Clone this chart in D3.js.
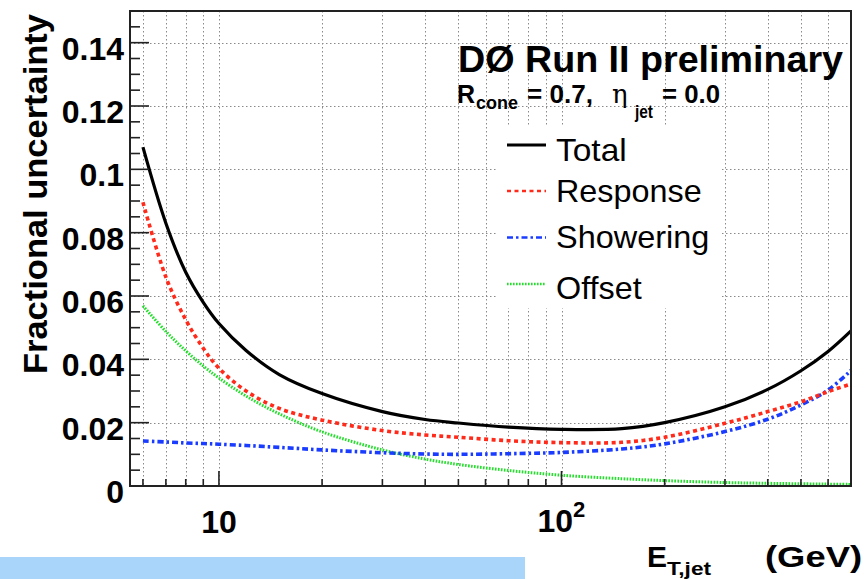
<!DOCTYPE html>
<html>
<head>
<meta charset="utf-8">
<script src="https://cdn.jsdelivr.net/npm/d3@7/dist/d3.min.js"></script>
<style>
  html, body { margin: 0; padding: 0; background: #fff; }
  svg { display: block; }
  text { font-family: "Liberation Sans", Arial, Helvetica, sans-serif; fill: #000; }
</style>
</head>
<body>
<svg id="chart" width="866" height="579"></svg>
<script>
// Jet energy scale uncertainty vs jet transverse energy (GeV)
const energies  = [6, 7, 8, 9, 10, 12, 15, 20, 30, 40, 50, 70, 100, 150, 200, 300, 400, 500, 600, 700];
const total     = [0.107, 0.083, 0.0675, 0.058, 0.0513, 0.0428, 0.0352, 0.0292, 0.0235, 0.0210, 0.0199, 0.0186, 0.0179, 0.0181, 0.0200, 0.0250, 0.0305, 0.0364, 0.0425, 0.0490];
const response  = [0.0896, 0.066, 0.0525, 0.0435, 0.0372, 0.0300, 0.0245, 0.0208, 0.0175, 0.0161, 0.0154, 0.0143, 0.0137, 0.0138, 0.0154, 0.0198, 0.0235, 0.0266, 0.0298, 0.0322];
const showering = [0.0142, 0.0139, 0.0136, 0.0134, 0.0132, 0.0128, 0.0122, 0.0114, 0.0105, 0.0101, 0.0100, 0.0102, 0.0106, 0.0117, 0.0133, 0.0172, 0.0211, 0.0256, 0.0303, 0.0365];
const offset    = [0.0569, 0.0488, 0.0427, 0.0379, 0.0341, 0.0284, 0.0228, 0.0171, 0.0114, 0.0085, 0.0068, 0.0049, 0.0034, 0.0023, 0.0017, 0.0011, 0.00085, 0.0007, 0.0006, 0.0005];

const seriesNames = ["Total", "Response", "Showering", "Offset"];
const yTickValues = [0, 0.02, 0.04, 0.06, 0.08, 0.1, 0.12, 0.14];
const yTickLabels = ["0", "0.02", "0.04", "0.06", "0.08", "0.1", "0.12", "0.14"];
const xGridValues = [6, 7, 8, 9, 10, 20, 30, 40, 50, 60, 70, 80, 90, 100, 200, 300, 400, 500, 600];

const svg = d3.select("#chart");

const plot = { left: 130, right: 851, top: 11, bottom: 486 };
const x = d3.scaleLog().domain([5.5, 700]).range([plot.left, plot.right]);
const y = d3.scaleLinear().domain([0, 0.15]).range([plot.bottom, plot.top]);

// strip at the bottom
svg.append("rect").attr("x", 0).attr("y", 557).attr("width", 525).attr("height", 22).attr("fill", "#aad5fb");

// grid
const grid = svg.append("g").attr("stroke", "#8a8a8a").attr("stroke-width", 1).attr("stroke-dasharray", "1.5,2.5");
grid.selectAll("line.gx").data(xGridValues).join("line")
  .attr("x1", d => Math.round(x(d)) + 0.5).attr("x2", d => Math.round(x(d)) + 0.5)
  .attr("y1", plot.top).attr("y2", plot.bottom);
grid.selectAll("line.gy").data(yTickValues.filter(v => v > 0)).join("line")
  .attr("x1", plot.left).attr("x2", plot.right)
  .attr("y1", d => Math.round(y(d)) + 0.5).attr("y2", d => Math.round(y(d)) + 0.5);

// curves
const line = d3.line().x(d => x(d[0])).y(d => y(d[1])).curve(d3.curveCatmullRom.alpha(0.5));
const styles = [
  { name: seriesNames[0], values: total,     color: "#000000", width: 3.2, dash: null },
  { name: seriesNames[1], values: response,  color: "#ff2a1a", width: 3.6, dash: "4,3.5" },
  { name: seriesNames[2], values: showering, color: "#1a3cff", width: 3.6, dash: "6,3,2.5,3" },
  { name: seriesNames[3], values: offset,    color: "#22e02a", width: 3,   dash: "1.6,1.4" }
];
const drawOrder = [3, 2, 1, 0];
drawOrder.forEach(i => {
  const s = styles[i];
  svg.append("path")
    .datum(energies.map((e, k) => [e, s.values[k]]))
    .attr("d", line)
    .attr("fill", "none")
    .attr("stroke", s.color)
    .attr("stroke-width", s.width)
    .attr("stroke-dasharray", s.dash);
});

// legend box
svg.append("rect").attr("x", 496).attr("y", 127).attr("width", 224).attr("height", 181).attr("fill", "#fff");
const legY = [145, 191, 237.5, 284];
const legBase = [161, 201.5, 248, 299];
const legW = [70.7, 145.7, 153.3, 85.7];
styles.forEach((s, i) => {
  svg.append("line")
    .attr("x1", 507).attr("x2", 546).attr("y1", legY[i]).attr("y2", legY[i])
    .attr("stroke", s.color).attr("stroke-width", i === 0 ? 3 : 2.6)
    .attr("stroke-dasharray", s.dash);
  svg.append("text").attr("x", 556).attr("y", legBase[i])
    .attr("font-size", 32).attr("textLength", legW[i]).attr("lengthAdjust", "spacingAndGlyphs")
    .text(s.name);
});

// header text
svg.append("text").attr("x", 458).attr("y", 72).attr("font-size", 36).attr("font-weight", "bold")
  .attr("textLength", 385).attr("lengthAdjust", "spacingAndGlyphs").text("DØ Run II preliminary");
const sub = svg.append("g").attr("font-weight", "bold");
sub.append("text").attr("x", 457).attr("y", 102.5).attr("font-size", 25).text("R");
sub.append("text").attr("x", 476).attr("y", 108.5).attr("font-size", 18).attr("textLength", 42).attr("lengthAdjust", "spacingAndGlyphs").text("cone");
sub.append("text").attr("x", 527).attr("y", 102.5).attr("font-size", 25).attr("textLength", 66).attr("lengthAdjust", "spacingAndGlyphs").text("= 0.7,");
svg.append("text").attr("x", 612).attr("y", 102.5).attr("font-size", 26)
  .style("font-family", "'DejaVu Serif', 'Liberation Serif', serif").text("η");
sub.append("text").attr("x", 635).attr("y", 117.5).attr("font-size", 18).attr("textLength", 18).attr("lengthAdjust", "spacingAndGlyphs").text("jet");
sub.append("text").attr("x", 662).attr("y", 102.5).attr("font-size", 25).attr("textLength", 58).attr("lengthAdjust", "spacingAndGlyphs").text("= 0.0");

// axes frame
svg.append("rect").attr("x", plot.left).attr("y", plot.top)
  .attr("width", plot.right - plot.left).attr("height", plot.bottom - plot.top)
  .attr("fill", "none").attr("stroke", "#222").attr("stroke-width", 2);

// y axis ticks (major every 0.02, minor every 0.005)
const yMinor = d3.range(0, 0.1501, 0.005);
svg.append("g").attr("stroke", "#222").attr("stroke-width", 1.6)
  .selectAll("line").data(yMinor).join("line")
  .attr("x1", plot.left).attr("y1", d => y(d)).attr("y2", d => y(d))
  .attr("x2", d => plot.left + (Math.abs(Math.round(d * 1000) % 20) === 0 ? 19 : 10));

svg.append("g").attr("font-size", 32).attr("font-weight", "bold").attr("text-anchor", "end")
  .selectAll("text").data(yTickValues).join("text")
  .attr("x", 124).attr("y", d => y(d) + 17)
  .text((d, i) => yTickLabels[i]);

// x axis ticks
const xTicks = [6, 7, 8, 9, 10, 20, 30, 40, 50, 60, 70, 80, 90, 100, 200, 300, 400, 500, 600];
svg.append("g").attr("stroke", "#222").attr("stroke-width", 1.6)
  .selectAll("line").data(xTicks).join("line")
  .attr("x1", d => x(d)).attr("x2", d => x(d)).attr("y1", plot.bottom)
  .attr("y2", d => plot.bottom - ((d === 10 || d === 100) ? 15 : 7));

svg.append("text").attr("x", x(10)).attr("y", 533).attr("font-size", 32).attr("font-weight", "bold")
  .attr("text-anchor", "middle").text("10");
const t100 = svg.append("text").attr("x", x(100) - 24).attr("y", 532).attr("font-size", 32).attr("font-weight", "bold");
t100.append("tspan").text("10");
t100.append("tspan").attr("font-size", 22).attr("dy", -15).text("2");

// axis titles
svg.append("text").attr("transform", "translate(47,194) rotate(-90)")
  .attr("text-anchor", "middle").attr("font-size", 34).attr("font-weight", "bold")
  .attr("textLength", 360).attr("lengthAdjust", "spacingAndGlyphs")
  .text("Fractional uncertainty");

const xt = svg.append("g").attr("font-weight", "bold");
xt.append("text").attr("x", 647).attr("y", 567).attr("font-size", 30).text("E");
xt.append("text").attr("x", 667).attr("y", 574.5).attr("font-size", 18).attr("textLength", 44).attr("lengthAdjust", "spacingAndGlyphs").text("T,jet");
xt.append("text").attr("x", 765).attr("y", 567).attr("font-size", 30).attr("textLength", 97).attr("lengthAdjust", "spacingAndGlyphs").text("(GeV)");
</script>
</body>
</html>
